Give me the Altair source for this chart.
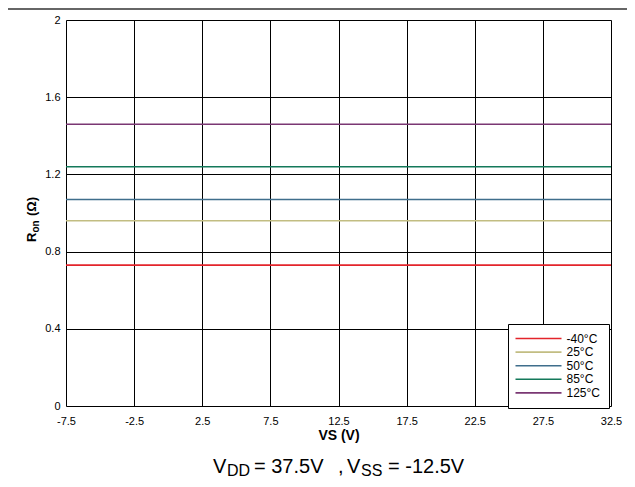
import altair as alt
import pandas as pd

# ---- data ----
temps = ["-40°C", "25°C", "50°C", "85°C", "125°C"]
ron_values = [0.73, 0.96, 1.07, 1.24, 1.46]
colors = ["#e3242b", "#c2bd82", "#3f6e8c", "#14795a", "#7a3773"]
vs_range = [-7.5, 32.5]
x_ticks = [-7.5, -2.5, 2.5, 7.5, 12.5, 17.5, 22.5, 27.5, 32.5]
y_ticks = [0, 0.4, 0.8, 1.2, 1.6, 2]

rows = []
for t, r in zip(temps, ron_values):
    for v in vs_range:
        rows.append({"temp": t, "vs": v, "ron": r})
df = pd.DataFrame(rows)

FONT = "Liberation Sans"
W, H = 545, 386

lines = alt.Chart(df).mark_line(strokeWidth=1.6, clip=True).encode(
    x=alt.X("vs:Q", scale=alt.Scale(domain=vs_range, nice=False, zero=False),
            axis=alt.Axis(values=x_ticks, title="VS (V)", grid=True, gridColor="black",
                          gridWidth=1, gridOpacity=1, domain=False, ticks=False,
                          labelExpr="toString(datum.value)", labelFlush=False,
                          labelOverlap=False,
                          labelFont=FONT, labelFontSize=11, labelColor="black", labelPadding=9,
                          titleFont=FONT, titleFontSize=14, titleFontWeight="bold",
                          titleColor="black", titlePadding=2)),
    y=alt.Y("ron:Q", scale=alt.Scale(domain=[0, 2], nice=False),
            axis=alt.Axis(values=y_ticks, title=None, grid=True, gridColor="black",
                          gridWidth=1, gridOpacity=1, domain=False, ticks=False,
                          labelExpr="toString(datum.value)", labelFlush=False,
                          labelOverlap=False,
                          labelFont=FONT, labelFontSize=11, labelColor="black", labelPadding=6)),
    color=alt.Color("temp:N", sort=temps,
                    scale=alt.Scale(domain=temps, range=colors),
                    legend=alt.Legend(title=None, orient="none", legendX=442, legendY=304,
                                      direction="vertical",
                                      symbolType="M-4.6,0H4.6", symbolSize=100,
                                      symbolStrokeWidth=1.6, symbolOffset=16,
                                      labelFont=FONT, labelFontSize=12, labelColor="black",
                                      labelOffset=22, rowPadding=1.6,
                                      padding=8.5, strokeColor="black", fillColor="white",
                                      cornerRadius=0, labelLimit=200)),
)

txt = dict(font=FONT, color="black", align="left", baseline="alphabetic")

def label(text, x, y, size, weight="normal", angle=0):
    return alt.Chart(pd.DataFrame({"t": [text]})).mark_text(
        fontSize=size, fontWeight=weight, angle=angle, **txt
    ).encode(text="t:N", x=alt.value(x), y=alt.value(y))

subtitle = [
    label("V", 147, 453, 20),
    label("DD", 161, 456, 16),
    label("= 37.5V", 188, 453, 20),
    label(",", 272, 453, 20),
    label("V", 281, 453, 20),
    label("SS", 295, 456, 16),
    label("= -12.5V", 322, 453, 20),
]

ytitle = [
    label("R", -30, 222, 13, "bold", 270),
    label("on", -27, 212.5, 10, "bold", 270),
    label("(Ω)", -30, 196, 13, "bold", 270),
]

topline = alt.Chart(pd.DataFrame({"a": [0]})).mark_rule(color="#333333", strokeWidth=1.5).encode(
    x=alt.value(-66), x2=alt.value(W + 16), y=alt.value(-11))

chart = alt.layer(lines, topline, *subtitle, *ytitle).properties(
    width=W, height=H,
    padding={"left": 58, "top": 12, "right": 16, "bottom": 73},
    autosize=alt.AutoSizeParams(type="none"),
).configure_view(stroke="black", strokeWidth=2).configure(background="white")

chart.save("out.html", embed_options={"renderer": "svg", "actions": False})
